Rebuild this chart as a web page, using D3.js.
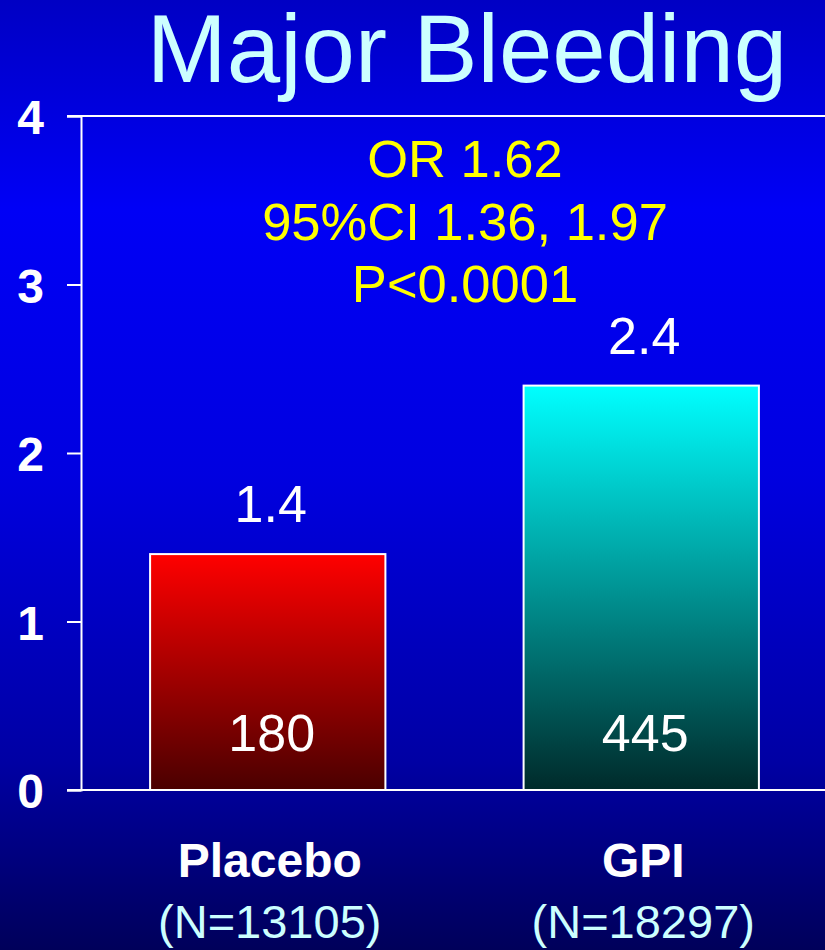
<!DOCTYPE html>
<html>
<head>
<meta charset="utf-8">
<script src="https://cdn.jsdelivr.net/npm/d3@7"></script>
<style>
  html, body { margin: 0; padding: 0; background: #000080; }
  svg { display: block; font-family: "Liberation Sans", Arial, sans-serif; }
</style>
</head>
<body>
<svg id="chart"></svg>
<script>
// chart data
var categories = ['Placebo', 'GPI']
var sampleSizes = ['(N=13105)', '(N=18297)']
var rates = [1.4, 2.4]          // % with major bleeding
var events = [180, 445]         // number of events
var yTicks = [0, 1, 2, 3, 4]
var title = 'Major Bleeding'
var statLines = ['OR 1.62', '95%CI 1.36, 1.97', 'P<0.0001']

var svgWidth = 825, svgHeight = 950

var svg = d3.select('#chart')
    .attr('width', svgWidth)
    .attr('height', svgHeight)

var defs = svg.append('defs')

// slide background
var bg = defs.append('linearGradient')
    .attr('id', 'bg')
    .attr('x1', 0).attr('y1', 0).attr('x2', 0).attr('y2', 1)
bg.append('stop').attr('offset', '0%').attr('stop-color', '#0000c4')
bg.append('stop').attr('offset', '22%').attr('stop-color', '#0000f6')
bg.append('stop').attr('offset', '50%').attr('stop-color', '#0000e0')
bg.append('stop').attr('offset', '80%').attr('stop-color', '#0000a4')
bg.append('stop').attr('offset', '100%').attr('stop-color', '#00005a')

// bar fills
var barColors = [['#ff0000', '#4a0000'], ['#00ffff', '#002a2a']]
barColors.forEach(function (c, i) {
    var g = defs.append('linearGradient')
        .attr('id', 'bar' + i)
        .attr('x1', 0).attr('y1', 0).attr('x2', 0).attr('y2', 1)
    g.append('stop').attr('offset', '0%').attr('stop-color', c[0])
    g.append('stop').attr('offset', '100%').attr('stop-color', c[1])
})

svg.append('rect')
    .attr('width', svgWidth)
    .attr('height', svgHeight)
    .attr('fill', 'url(#bg)')

// scales
var x = d3.scaleBand()
    .domain(categories)
    .range([81, 828])
    .paddingInner(0.37)
    .paddingOuter(0.185)

var y = d3.scaleLinear()
    .domain([0, 4])
    .range([790, 116])

// title
svg.append('text')
    .attr('x', 467)
    .attr('y', 82)
    .attr('text-anchor', 'middle')
    .attr('fill', '#ccffff')
    .attr('font-size', 96)
    .text(title)

// top frame line
svg.append('line')
    .attr('x1', 67).attr('x2', svgWidth)
    .attr('y1', y(4)).attr('y2', y(4))
    .attr('stroke', '#fff').attr('stroke-width', 2)

// bars
var data = categories.map(function (c, i) {
    return { cat: c, rate: rates[i], n: events[i], size: sampleSizes[i], i: i }
})

svg.selectAll('.bar')
    .data(data)
    .enter().append('rect')
    .attr('class', 'bar')
    .attr('x', function (d) { return x(d.cat) })
    .attr('y', function (d) { return y(d.rate) })
    .attr('width', x.bandwidth())
    .attr('height', function (d) { return y(0) - y(d.rate) })
    .attr('fill', function (d) { return 'url(#bar' + d.i + ')' })
    .attr('stroke', '#fff')
    .attr('stroke-width', 2)

// value above bar
svg.selectAll('.val')
    .data(data)
    .enter().append('text')
    .attr('x', function (d) { return x(d.cat) + x.bandwidth() / 2 + 3 })
    .attr('y', function (d) { return y(d.rate) - 32 })
    .attr('text-anchor', 'middle')
    .attr('fill', '#fff')
    .attr('font-size', 52)
    .text(function (d) { return d.rate.toFixed(1) })

// event counts inside bar
svg.selectAll('.cnt')
    .data(data)
    .enter().append('text')
    .attr('x', function (d) { return x(d.cat) + x.bandwidth() / 2 + 4 })
    .attr('y', 751)
    .attr('text-anchor', 'middle')
    .attr('fill', '#fff')
    .attr('font-size', 52)
    .text(function (d) { return d.n })

// y axis
var yAxis = svg.append('g')
    .attr('transform', 'translate(81,0)')
    .call(d3.axisLeft(y).tickValues(yTicks).tickSize(14).tickPadding(23).tickFormat(d3.format('d')))
yAxis.select('.domain').attr('stroke', '#fff').attr('stroke-width', 2)
yAxis.selectAll('.tick line').attr('stroke', '#fff').attr('stroke-width', 2)
yAxis.selectAll('.tick text')
    .attr('fill', '#fff')
    .attr('font-size', 48)
    .attr('font-weight', 'bold')
    .attr('font-family', '"Liberation Sans", Arial, sans-serif')
    .attr('dy', '0.37em')

// x axis line
svg.append('line')
    .attr('x1', 67).attr('x2', svgWidth)
    .attr('y1', y(0)).attr('y2', y(0))
    .attr('stroke', '#fff').attr('stroke-width', 2)

// stats text
svg.selectAll('.stat')
    .data(statLines)
    .enter().append('text')
    .attr('x', 465)
    .attr('y', function (d, i) { return 177 + i * 62.5 })
    .attr('text-anchor', 'middle')
    .attr('fill', '#ffff00')
    .attr('font-size', 52.5)
    .text(function (d) { return d })

// category labels
svg.selectAll('.cat')
    .data(data)
    .enter().append('text')
    .attr('x', function (d) { return x(d.cat) + x.bandwidth() / 2 + 2 })
    .attr('y', 877)
    .attr('text-anchor', 'middle')
    .attr('fill', '#fff')
    .attr('font-size', 48)
    .attr('font-weight', 'bold')
    .text(function (d) { return d.cat })

svg.selectAll('.size')
    .data(data)
    .enter().append('text')
    .attr('x', function (d) { return x(d.cat) + x.bandwidth() / 2 + 2 })
    .attr('y', 938)
    .attr('text-anchor', 'middle')
    .attr('fill', '#ccffff')
    .attr('font-size', 47)
    .text(function (d) { return d.size })
</script>
</body>
</html>
